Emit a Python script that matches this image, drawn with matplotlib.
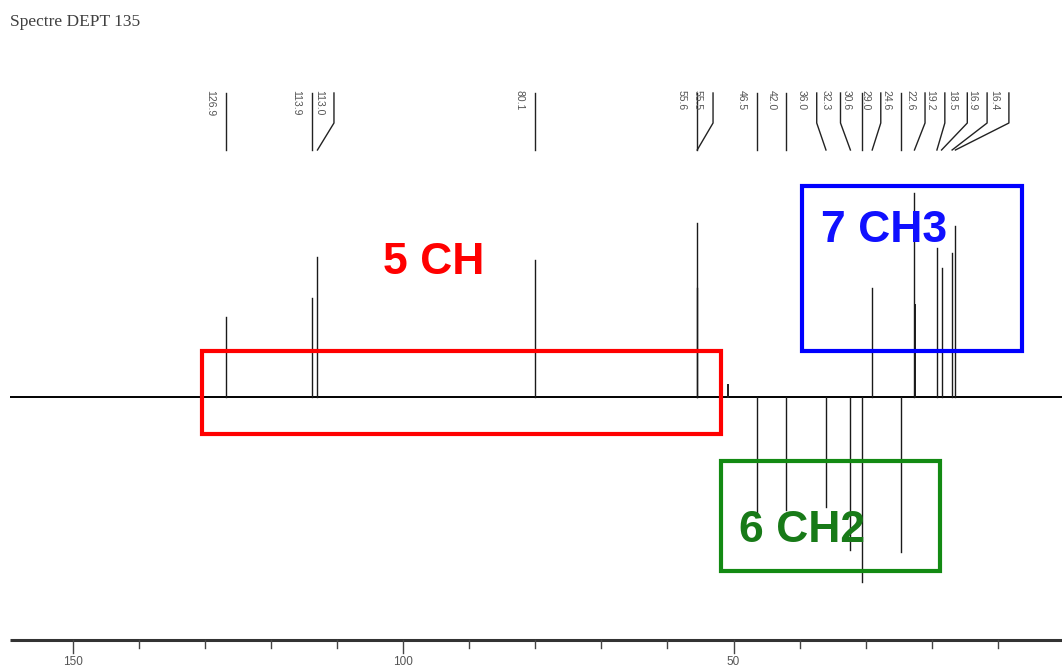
import matplotlib
matplotlib.use('Agg')
import matplotlib.pyplot as plt
from matplotlib.patches import Rectangle

# ---------------- data ----------------
title = "Spectre DEPT 135"
peak_ppm = [126.9, 113.9, 113.0, 80.1, 55.6, 55.5, 46.5, 42.0, 36.0, 32.3,
            30.6, 29.0, 24.6, 22.6, 19.2, 18.5, 16.9, 16.4]
peak_int = [80, 99, 140, 137, 174, 109, -116, -113, -110, -153,
            -185, 109, -155, 204, 149, 129, 144, 171]
peak_labels = ["126.9", "113.9", "113.0", "80.1", "55.6", "55.5", "46.5", "42.0",
               "36.0", "32.3", "30.6", "29.0", "24.6", "22.6", "19.2", "18.5",
               "16.9", "16.4"]
# unlabeled minor signals
extra_ppm = [22.5, 50.8]
extra_int = [92, 12]
major_ticks = [150, 100, 50]
minor_ticks = [140, 130, 120, 110, 90, 80, 70, 60, 40, 30, 20, 10, 0]
group_texts = ["5 CH", "6 CH2", "7 CH3"]

# ---------------- layout ----------------
label_pos = [126.9, 113.9, 110.5, 80.1, 55.6, 53.1, 46.5, 42.0, 37.4, 33.8,
             30.6, 27.7, 24.6, 21.0, 18.0, 14.6, 11.6, 8.3]
PX = 6.604  # pixels per ppm

fig = plt.figure(figsize=(10.62, 6.71), dpi=100)
ax = fig.add_axes([0, 0, 1, 1])
ax.set_xlim(161.07, 0.26)
ax.set_ylim(-274, 397)
ax.axis('off')

# title
fig.text(10 / 1062, 1 - 22 / 671, title, family='Liberation Serif', fontsize=12.5,
         color='#404040', ha='left', va='center')

# baseline
ax.plot([159.6, 0.0], [0, 0], color='black', lw=1.4, solid_capstyle='butt', zorder=3)

# peaks
for p, h in zip(peak_ppm, peak_int):
    ax.plot([p, p], [0, h], color='#1a1a1a', lw=1.0, zorder=3)
for p, h in zip(extra_ppm, extra_int):
    ax.plot([p, p], [0, h], color='#1a1a1a', lw=1.4, zorder=3)

# peak labels with leader lines
y_top, y_knee, y_end = 304, 274, 247
for p, lp, lab in zip(peak_ppm, label_pos, peak_labels):
    ax.plot([lp, lp, p], [y_top, y_knee, y_end], color='#222222', lw=1.0)
    ax.text(lp + 15 / PX, 307, lab, rotation=-90, ha='center', va='top',
            fontsize=7.5, color='#555555', family='Liberation Sans')

# group boxes
ax.add_patch(Rectangle((130.5, -37), 51.9 - 130.5, 83, fill=False,
                       edgecolor='#ff0000', lw=3, zorder=4))
ax.add_patch(Rectangle((39.6, 46), 6.3 - 39.6, 165, fill=False,
                       edgecolor='#0000ff', lw=3, zorder=4))
ax.add_patch(Rectangle((51.9, -174), 18.7 - 51.9, 110, fill=False,
                       edgecolor='#138a13', lw=3, zorder=4))

ax.text(95.35, 135, group_texts[0], color='#ff0000', fontsize=32, fontweight='bold',
        family='Liberation Sans', ha='center', va='center', zorder=5)
ax.text((1063.7 - 739) / PX, -134, group_texts[1], color='#187a18', fontsize=32,
        fontweight='bold', family='Liberation Sans', ha='left', va='center', zorder=5)
ax.text((1063.7 - 821) / PX, 167, group_texts[2], color='#1010ff', fontsize=32,
        fontweight='bold', family='Liberation Sans', ha='left', va='center', zorder=5)

# ppm axis
ax.plot([159.6, 0.0], [-243, -243], color='#333333', lw=2.2, solid_capstyle='butt',
        clip_on=False)
for t in major_ticks:
    ax.plot([t, t], [-243, -256], color='#444444', lw=1.0)
    ax.text(t, -265, str(t), ha='center', va='center', fontsize=8.5,
            color='#555555', family='Liberation Sans')
for t in minor_ticks:
    ax.plot([t, t], [-243, -251], color='#444444', lw=1.0)

fig.savefig('out.png', dpi=100)
